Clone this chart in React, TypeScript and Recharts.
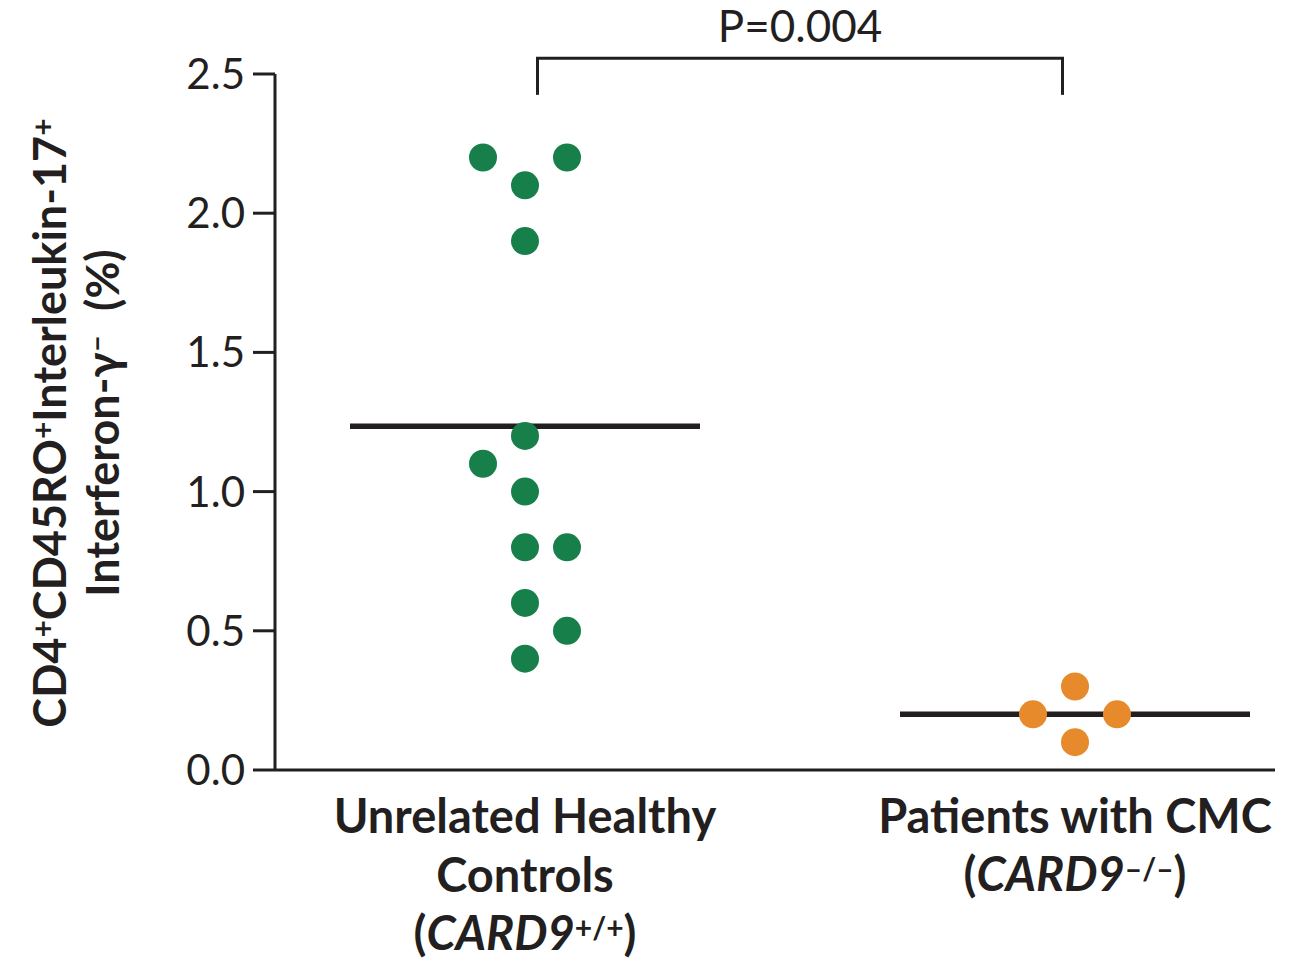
import {
  ReferenceLine,
  Scatter,
  ScatterChart,
  XAxis,
  YAxis,
} from 'recharts';

// group positions on the numeric x axis (domain 0..4)
const groupCenters = [1.0, 3.2];
const categoryLines = [['Unrelated Healthy', 'Controls'], ['Patients with CMC']];
const genotypes = ['+/+', '\u2013/\u2013'];

// beeswarm slots: -1 left, 0 centre, 1 right
const slotStep = 0.168;
const controlValues = [2.2, 2.2, 2.1, 1.9, 1.2, 1.1, 1.0, 0.8, 0.8, 0.6, 0.5, 0.4];
const controlSlots = [-1, 1, 0, 0, 0, -1, 0, 0, 1, 0, 1, 0];
const patientValues = [0.3, 0.2, 0.2, 0.1];
const patientSlots = [0, -1, 1, 0];

const controlMean = 1.235;
const patientMean = 0.2;
const pValueLabel = 'P=0.004';

const yTicks = [0, 0.5, 1.0, 1.5, 2.0, 2.5];

const INK = '#231f20';
const GREEN = '#17804a';
const ORANGE = '#e68a2c';
const FONT = 'Lato, "Open Sans", sans-serif';

const controls = controlValues.map((v, i) => ({
  x: groupCenters[0] + controlSlots[i] * slotStep,
  y: v,
}));
const patients = patientValues.map((v, i) => ({
  x: groupCenters[1] + patientSlots[i] * slotStep,
  y: v,
}));

function dot(fill: string) {
  return (props: { cx?: number; cy?: number }) => (
    <circle cx={props.cx} cy={props.cy} r={14} fill={fill} />
  );
}

function CategoryTick(props: { x?: number; y?: number; payload?: { value: number } }) {
  const { x = 0, y = 0, payload } = props;
  const idx = groupCenters.indexOf(payload?.value ?? -1);
  if (idx < 0) return null;
  const lines = categoryLines[idx];
  return (
    <text
      x={x}
      y={y}
      textAnchor="middle"
      fontFamily={FONT}
      fontWeight={700}
      fontSize={47}
      fill={INK}
    >
      {lines.map((line, i) => (
        <tspan key={line} x={x} dy={i === 0 ? 55 : 59}>
          {line}
        </tspan>
      ))}
      <tspan x={x} dy={58}>
        (<tspan fontStyle="italic">CARD9</tspan>
        <tspan baselineShift="38%" fontSize={30}>{genotypes[idx]}</tspan>
        <tspan>)</tspan>
      </tspan>
    </text>
  );
}

function Sup({ s }: { s: string }) {
  return (
    <tspan baselineShift="40%" fontSize={30}>
      {s}
    </tspan>
  );
}

function YTitle() {
  const common = {
    textAnchor: 'middle' as const,
    fontFamily: FONT,
    fontWeight: 700,
    fontSize: 45,
    fill: INK,
  };
  return (
    <g transform="translate(0, 423) rotate(-90)">
      <text x={0} y={66} {...common}>
        CD4<Sup s="+" />CD45RO<Sup s="+" />Interleukin-17<Sup s="+" />
      </text>
      <text x={0} y={119} {...common}>
        Interferon-γ<Sup s={'\u2013'} />
        <tspan dx={24}>(%)</tspan>
      </text>
    </g>
  );
}

export default function App() {
  return (
    <div style={{ position: 'absolute', left: 0, top: 0, background: '#fff' }}>
      <ScatterChart
        width={1301}
        height={970}
        margin={{ top: 74, right: 26, bottom: 10, left: 155 }}
      >
        <XAxis
          type="number"
          dataKey="x"
          domain={[0, 4]}
          ticks={groupCenters}
          tick={<CategoryTick />}
          tickLine={false}
          axisLine={{ stroke: INK, strokeWidth: 3 }}
          height={190}
          interval={0}
        />
        <YAxis
          type="number"
          dataKey="y"
          domain={[0, 2.5]}
          ticks={yTicks}
          tickFormatter={(v: number) => v.toFixed(1)}
          width={120}
          tickSize={22}
          tickMargin={8}
          tickLine={{ stroke: INK, strokeWidth: 3 }}
          axisLine={{ stroke: INK, strokeWidth: 3 }}
          tick={{ fontSize: 42, fill: INK, fontFamily: FONT, fontWeight: 400 }}
          label={{ content: () => <YTitle /> }}
        />
        <Scatter data={controls} shape={dot(GREEN)} isAnimationActive={false} />
        <Scatter data={patients} shape={dot(ORANGE)} isAnimationActive={false} />
        <ReferenceLine
          segment={[{ x: 0.3, y: controlMean }, { x: 1.7, y: controlMean }]}
          stroke={INK}
          strokeWidth={5.5}
          ifOverflow="visible"
        />
        <ReferenceLine
          segment={[{ x: 2.5, y: patientMean }, { x: 3.9, y: patientMean }]}
          stroke={INK}
          strokeWidth={5.5}
          ifOverflow="visible"
        />
        {/* significance bracket */}
        <ReferenceLine
          segment={[{ x: 1.05, y: 2.425 }, { x: 1.05, y: 2.557 }]}
          stroke={INK}
          strokeWidth={3}
          ifOverflow="visible"
        />
        <ReferenceLine
          segment={[{ x: 3.15, y: 2.425 }, { x: 3.15, y: 2.557 }]}
          stroke={INK}
          strokeWidth={3}
          ifOverflow="visible"
        />
        <ReferenceLine
          segment={[{ x: 1.044, y: 2.557 }, { x: 3.156, y: 2.557 }]}
          stroke={INK}
          strokeWidth={3}
          ifOverflow="visible"
          label={{
            value: pValueLabel,
            position: 'top',
            offset: 16,
            fontSize: 44,
            fill: INK,
            fontFamily: FONT,
          }}
        />
      </ScatterChart>
    </div>
  );
}
